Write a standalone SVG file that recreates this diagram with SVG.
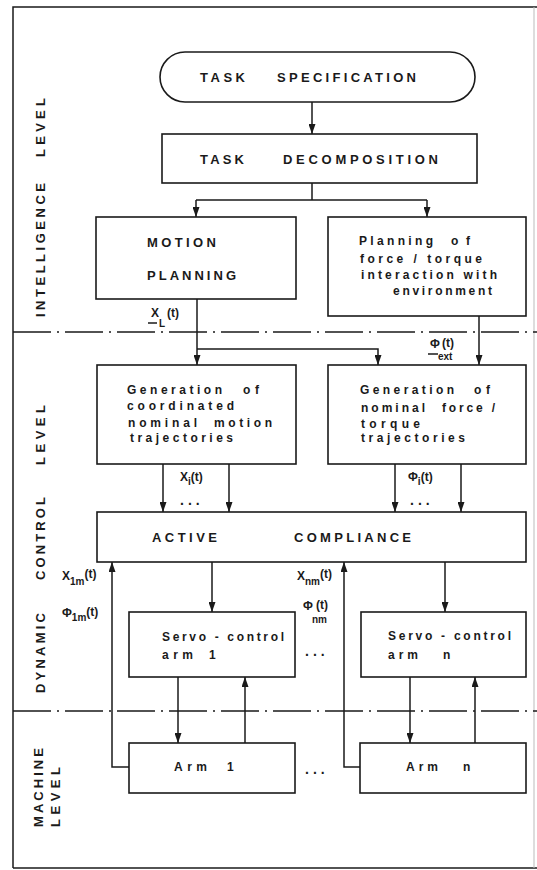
<svg xmlns="http://www.w3.org/2000/svg" width="537" height="870" viewBox="0 0 537 870">
<style>
.box{fill:none;stroke:#1a1a1a;stroke-width:1.6}
.ln{fill:none;stroke:#1a1a1a;stroke-width:1.5}
.arr{marker-end:url(#ah)}
.dd{fill:none;stroke:#1a1a1a;stroke-width:1.4;stroke-dasharray:38 6 2 6}
.t{font-family:"Liberation Sans",Arial,sans-serif;font-size:13px;font-weight:bold;fill:#1a1a1a}
.s{font-family:"Liberation Sans",Arial,sans-serif;font-size:12px;font-weight:bold;fill:#1a1a1a}
.lv{font-family:"Liberation Sans",Arial,sans-serif;font-size:13px;font-weight:bold;fill:#1a1a1a}
.lb{font-family:"Liberation Sans",Arial,sans-serif;font-size:12px;font-weight:bold;fill:#1a1a1a}
.sub{font-size:10px}
.dots{font-family:"Liberation Sans",Arial,sans-serif;font-size:14px;font-weight:bold;fill:#1a1a1a;letter-spacing:4px}
</style>
<defs>
<marker id="ah" viewBox="0 0 10 7" refX="10" refY="3.5" markerWidth="10" markerHeight="7" markerUnits="userSpaceOnUse" orient="auto">
<path d="M0,0 L10,3.5 L0,7 z" fill="#1a1a1a"/>
</marker>
</defs>
<rect x="0" y="0" width="537" height="870" fill="#ffffff"/>
<g id="frame">
<path class="ln" d="M13,868 V7 H537"/>
<path class="ln" d="M13,868 H537"/>
<path d="M534,7 V868" stroke="#bbbbbb" stroke-width="1" fill="none"/>
<path class="dd" d="M13,332 H537"/>
<path class="dd" d="M13,711 H537"/>
</g>
<g id="level-labels">
<text class="lv" transform="translate(45,317) rotate(-90)" textLength="134" lengthAdjust="spacing">INTELLIGENCE</text>
<text class="lv" transform="translate(45,157) rotate(-90)" textLength="59" lengthAdjust="spacing">LEVEL</text>
<text class="lv" transform="translate(45,693) rotate(-90)" textLength="80" lengthAdjust="spacing">DYNAMIC</text>
<text class="lv" transform="translate(45,580) rotate(-90)" textLength="83" lengthAdjust="spacing">CONTROL</text>
<text class="lv" transform="translate(45,465) rotate(-90)" textLength="60" lengthAdjust="spacing">LEVEL</text>
<text class="lv" transform="translate(43,827) rotate(-90)" textLength="79" lengthAdjust="spacing">MACHINE</text>
<text class="lv" transform="translate(60,827) rotate(-90)" textLength="60" lengthAdjust="spacing">LEVEL</text>
</g>
<g id="connectors">
<path class="ln arr" d="M312,102 V134"/>
<path class="ln" d="M312,183 V200 M196,200 H427"/>
<path class="ln arr" d="M196,200 V217"/>
<path class="ln arr" d="M427,200 V217"/>
<path class="ln arr" d="M197,299 V365"/>
<path class="ln arr" d="M197,349 H378 V365"/>
<path class="ln arr" d="M479,316 V365"/>
<path class="ln arr" d="M163,464 V512"/>
<path class="ln arr" d="M229,464 V512"/>
<path class="ln arr" d="M395,464 V512"/>
<path class="ln arr" d="M461,464 V512"/>
<path class="ln arr" d="M212,562 V612"/>
<path class="ln arr" d="M445,562 V612"/>
<path class="ln arr" d="M129,767 H112 V562"/>
<path class="ln arr" d="M360,767 H344 V562"/>
<path class="ln arr" d="M178,677 V743"/>
<path class="ln arr" d="M245,743 V677"/>
<path class="ln arr" d="M410,677 V743"/>
<path class="ln arr" d="M475,743 V677"/>
</g>
<g id="signal-labels">
<g id="xL">
<text class="lb" x="151" y="317">X</text>
<text class="lb sub" x="159" y="327">L</text>
<text class="lb" x="167" y="317">(t)</text>
<path class="ln" d="M148,323 H157" stroke-width="1.2"/>
</g>
<g id="phiext">
<text class="lb" x="430" y="348">Φ</text>
<text class="lb" x="442" y="347">(t)</text>
<text class="lb sub" x="438" y="360">ext</text>
<path class="ln" d="M428,354 H438" stroke-width="1.2"/>
</g>
<g id="xi">
<text class="lb" x="180" y="481">X<tspan class="sub" dy="4">i</tspan><tspan dy="-4">(t)</tspan></text>
</g>
<g id="phii">
<text class="lb" x="408" y="481">Φ<tspan class="sub" dy="4">i</tspan><tspan dy="-4">(t)</tspan></text>
</g>
<g id="x1m">
<text class="lb" x="62" y="580">X<tspan class="sub" dy="5">1m</tspan><tspan dy="-7">(t)</tspan></text>
</g>
<g id="phi1m">
<text class="lb" x="62" y="617">Φ<tspan class="sub" dy="4">1m</tspan><tspan dy="-5">(t)</tspan></text>
</g>
<g id="xnm">
<text class="lb" x="297" y="580">X<tspan class="sub" dy="5">nm</tspan><tspan dy="-7">(t)</tspan></text>
</g>
<g id="phinm">
<text class="lb" x="303" y="610">Φ</text>
<text class="lb" x="316" y="609">(t)</text>
<text class="lb sub" x="312" y="623">nm</text>
</g>
<text class="dots" x="180" y="505">...</text>
<text class="dots" x="410" y="505">...</text>
<text class="dots" x="305" y="656">...</text>
<text class="dots" x="305" y="774">...</text>
</g>
<g id="task-specification">
<rect class="box" x="160" y="52" width="315" height="50" rx="25" ry="25"/>
<text class="t" x="200" y="82" textLength="45" lengthAdjust="spacing">TASK</text>
<text class="t" x="277" y="82" textLength="139" lengthAdjust="spacing">SPECIFICATION</text>
</g>
<g id="task-decomposition">
<rect class="box" x="162" y="134" width="315" height="49"/>
<text class="t" x="200" y="164" textLength="44" lengthAdjust="spacing">TASK</text>
<text class="t" x="283" y="164" textLength="155" lengthAdjust="spacing">DECOMPOSITION</text>
</g>
<g id="motion-planning">
<rect class="box" x="96" y="217" width="200" height="82"/>
<text class="t" x="147" y="247" textLength="69" lengthAdjust="spacing">MOTION</text>
<text class="t" x="147" y="280" textLength="89" lengthAdjust="spacing">PLANNING</text>
</g>
<g id="force-planning">
<rect class="box" x="328" y="217" width="198" height="99"/>
<text class="s" x="359" y="245" textLength="74" lengthAdjust="spacing">Planning</text>
<text class="s" x="451" y="245" textLength="19" lengthAdjust="spacing">of</text>
<text class="s" x="360" y="263" textLength="122" lengthAdjust="spacing">force / torque</text>
<text class="s" x="361" y="279" textLength="136" lengthAdjust="spacing">interaction with</text>
<text class="s" x="393" y="295" textLength="99" lengthAdjust="spacing">environment</text>
</g>
<g id="motion-trajectories">
<rect class="box" x="97" y="365" width="199" height="99"/>
<text class="s" x="127" y="394" textLength="95" lengthAdjust="spacing">Generation</text>
<text class="s" x="243" y="394" textLength="16" lengthAdjust="spacing">of</text>
<text class="s" x="127" y="410" textLength="107" lengthAdjust="spacing">coordinated</text>
<text class="s" x="128" y="427" textLength="69" lengthAdjust="spacing">nominal</text>
<text class="s" x="214" y="427" textLength="58" lengthAdjust="spacing">motion</text>
<text class="s" x="130" y="442" textLength="103" lengthAdjust="spacing">trajectories</text>
</g>
<g id="force-trajectories">
<rect class="box" x="328" y="365" width="198" height="99"/>
<text class="s" x="360" y="394" textLength="94" lengthAdjust="spacing">Generation</text>
<text class="s" x="474" y="394" textLength="16" lengthAdjust="spacing">of</text>
<text class="s" x="361" y="412" textLength="64" lengthAdjust="spacing">nominal</text>
<text class="s" x="442" y="412" textLength="53" lengthAdjust="spacing">force /</text>
<text class="s" x="361" y="428" textLength="59" lengthAdjust="spacing">torque</text>
<text class="s" x="361" y="442" textLength="104" lengthAdjust="spacing">trajectories</text>
</g>
<g id="active-compliance">
<rect class="box" x="97" y="512" width="429" height="50"/>
<text class="t" x="152" y="542" textLength="65" lengthAdjust="spacing">ACTIVE</text>
<text class="t" x="294" y="542" textLength="117" lengthAdjust="spacing">COMPLIANCE</text>
</g>
<g id="servo-1">
<rect class="box" x="129" y="612" width="166" height="65"/>
<text class="s" x="162" y="641" textLength="122" lengthAdjust="spacing">Servo - control</text>
<text class="s" x="162" y="659" textLength="31" lengthAdjust="spacing">arm</text>
<text class="s" x="209" y="659">1</text>
</g>
<g id="servo-n">
<rect class="box" x="361" y="612" width="165" height="65"/>
<text class="s" x="388" y="640" textLength="123" lengthAdjust="spacing">Servo - control</text>
<text class="s" x="388" y="659" textLength="30" lengthAdjust="spacing">arm</text>
<text class="s" x="443" y="659">n</text>
</g>
<g id="arm-1">
<rect class="box" x="129" y="743" width="166" height="50"/>
<text class="s" x="174" y="771" textLength="33" lengthAdjust="spacing">Arm</text>
<text class="s" x="227" y="771">1</text>
</g>
<g id="arm-n">
<rect class="box" x="360" y="743" width="166" height="50"/>
<text class="s" x="406" y="771" textLength="32" lengthAdjust="spacing">Arm</text>
<text class="s" x="463" y="771">n</text>
</g>
</svg>
